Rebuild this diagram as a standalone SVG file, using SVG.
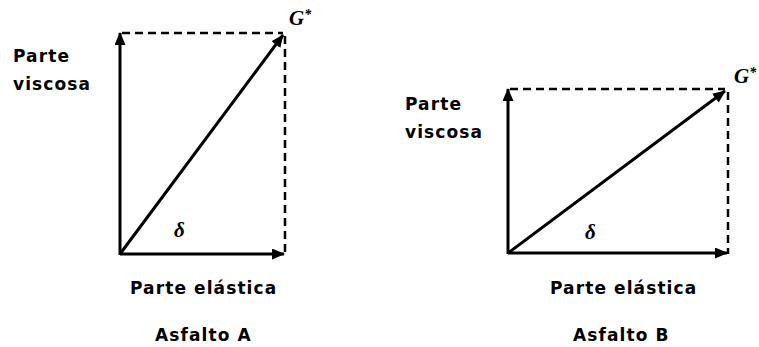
<svg xmlns="http://www.w3.org/2000/svg" width="759" height="347" viewBox="0 0 759 347">
<defs>
<marker id="ah" markerWidth="13" markerHeight="11" refX="12" refY="5.5" orient="auto" markerUnits="userSpaceOnUse">
<path d="M0,0 L13,5.5 L0,11 Z" fill="#000"/>
</marker>
</defs>
<style>
.ax{stroke:#000;stroke-width:3;fill:none}
.dash{stroke:#000;stroke-width:2.5;fill:none;stroke-dasharray:8,5}
.lbl{font-family:"DejaVu Sans",Verdana,sans-serif;font-size:17px;font-weight:bold;letter-spacing:1.1px;fill:#000}
.sym{font-family:"Liberation Serif",serif;font-style:italic;font-weight:bold;font-size:21px;fill:#000}
.sup{font-size:14px}
</style>
<rect width="759" height="347" fill="#fff"/>
<g id="connectors">
<line class="dash" x1="122" y1="33" x2="283" y2="33"/>
<line class="dash" x1="285" y1="36" x2="285" y2="254"/>
<line class="ax" x1="120" y1="255" x2="120" y2="33" marker-end="url(#ah)"/>
<line class="ax" x1="120" y1="254" x2="284" y2="254" marker-end="url(#ah)"/>
<line class="ax" x1="120" y1="254" x2="283" y2="35" marker-end="url(#ah)"/>
<line class="dash" x1="510" y1="89" x2="725" y2="89"/>
<line class="dash" x1="728" y1="92" x2="728" y2="254"/>
<line class="ax" x1="508" y1="254" x2="508" y2="89" marker-end="url(#ah)"/>
<line class="ax" x1="508" y1="253" x2="727" y2="253" marker-end="url(#ah)"/>
<line class="ax" x1="508" y1="253" x2="725" y2="91" marker-end="url(#ah)"/>
</g>
<g id="diagramA">
<text class="lbl" x="13" y="62">Parte</text>
<text class="lbl" x="13" y="90">viscosa</text>
<text class="sym" x="289" y="25">G<tspan class="sup" dy="-6">*</tspan></text>
<text class="sym" x="174" y="237">δ</text>
<text class="lbl" x="130" y="294">Parte elástica</text>
<text class="lbl" x="155" y="341">Asfalto A</text>
</g>
<g id="diagramB">
<text class="lbl" x="405" y="110">Parte</text>
<text class="lbl" x="405" y="138">viscosa</text>
<text class="sym" x="734" y="83">G<tspan class="sup" dy="-6">*</tspan></text>
<text class="sym" x="585" y="239">δ</text>
<text class="lbl" x="550" y="294">Parte elástica</text>
<text class="lbl" x="573" y="341">Asfalto B</text>
</g>
</svg>
